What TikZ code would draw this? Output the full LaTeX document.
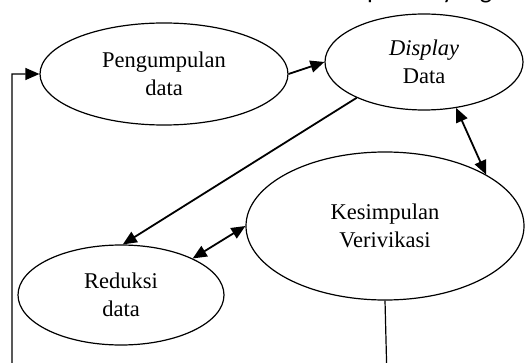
\documentclass[tikz,border=0pt]{standalone}
\usepackage{fontspec}
\setmainfont{Liberation Serif}
\newfontfamily\topfont{Carlito}
\usetikzlibrary{shapes.geometric,arrows.meta}
\begin{document}
\begin{tikzpicture}[x=1pt,y=-1pt,
  oval/.style={draw,ellipse,line width=1.2pt,inner sep=0pt,align=center,font=\fontsize{22.5}{28}\selectfont},
  tip/.tip={Triangle[length=14pt,width=12pt]},
  arr/.style={line width=1.8pt,-tip},
  darr/.style={line width=1.8pt,tip-tip},
  fb/.style={line width=1.2pt}]
\useasboundingbox (0,0) rectangle (526,363);
\node[anchor=base west,font=\topfont\fontsize{26}{30}\selectfont,inner sep=0pt] (top) at (367,-1) {proses yang};
\node[oval,minimum width=248pt,minimum height=102pt] (p) at (164,74) {Pengumpulan\\data};
\node[oval,minimum width=198pt,minimum height=96pt] (d) at (424,62) {\textit{Display}\\Data};
\node[oval,minimum width=278pt,minimum height=148pt] (k) at (385,226) {Kesimpulan\\Verivikasi};
\node[oval,minimum width=206pt,minimum height=100pt] (r) at (121,295) {Reduksi\\data};
\draw[arr] (p.east) -- (d.west);
\draw[arr] (d.208) -- (r.88);
\draw[darr] (d.-55) -- (k.27);
\draw[darr] (r.27) -- (k.180);
\coordinate (fb1) at (387,380);
\coordinate (fb2) at (12,380);
\draw[fb,-tip] (k.south) -- (fb1) -- (fb2) |- (p.west);
\end{tikzpicture}
\end{document}
